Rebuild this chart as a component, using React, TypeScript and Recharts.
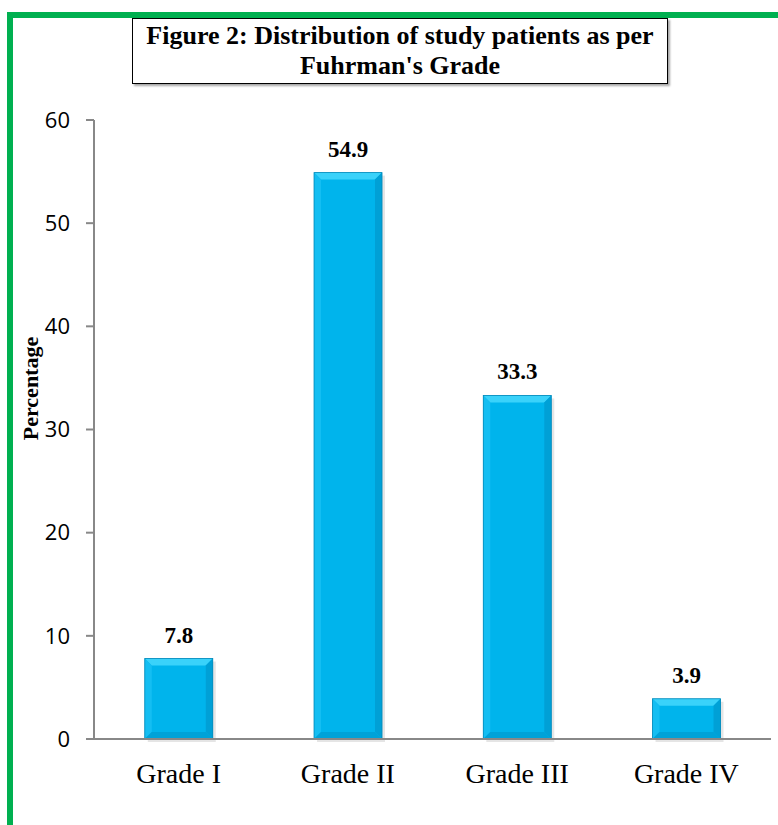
import React from "react";
import { BarChart, Bar, XAxis, YAxis, LabelList } from "recharts";

const grades = ["Grade I", "Grade II", "Grade III", "Grade IV"];
const percentages = [7.8, 54.9, 33.3, 3.9];
const yTicks = [0, 10, 20, 30, 40, 50, 60];

const data = grades.map((grade, i) => ({ grade, pct: percentages[i] }));

// bevelled bar, like the Excel "soft edge" style
function BevelBar(props: any) {
  const { x, y, width, height } = props;
  if (!height || height <= 0) return null;
  const b = Math.min(7, height / 3);
  const x2 = x + width;
  const y2 = y + height;
  return (
    <g>
      <rect x={x + 3} y={y + 3} width={width} height={height} fill="#000" opacity={0.1} />
      <rect x={x} y={y} width={width} height={height} fill="#00B4EC" />
      <polygon points={`${x},${y} ${x2},${y} ${x2 - b},${y + b} ${x + b},${y + b}`} fill="#3AD2FA" />
      <polygon points={`${x},${y} ${x + b},${y + b} ${x + b},${y2 - b} ${x},${y2}`} fill="#14BEF2" />
      <polygon points={`${x2},${y} ${x2},${y2} ${x2 - b},${y2 - b} ${x2 - b},${y + b}`} fill="#00A0D6" />
      <polygon points={`${x},${y2} ${x + b},${y2 - b} ${x2 - b},${y2 - b} ${x2},${y2}`} fill="#00A2D8" />
      <rect x={x} y={y} width={width} height={height} fill="none" stroke="#0088B8" strokeWidth={0.8} />
    </g>
  );
}

export default function App() {
  return (
    <div style={{ position: "absolute", left: 0, top: 0, width: 778, height: 825, background: "#fff", overflow: "hidden" }}>
      <div
        style={{
          position: "absolute",
          left: 7,
          top: 12,
          width: 800,
          height: 850,
          borderLeft: "6px solid #00B050",
          borderTop: "6px solid #00B050",
        }}
      />
      <div
        style={{
          position: "absolute",
          left: 132,
          top: 18,
          width: 536,
          height: 66,
          border: "1.5px solid #000",
          boxShadow: "2px 2px 2px rgba(0,0,0,0.35)",
          background: "#fff",
          fontFamily: "'Liberation Serif', serif",
          fontWeight: "bold",
          fontSize: 26,
          lineHeight: "30px",
          textAlign: "center",
          paddingTop: 2,
          boxSizing: "border-box",
          whiteSpace: "nowrap",
        }}
      >
        Figure 2: Distribution of study patients as per
        <br />
        Fuhrman's Grade
      </div>
      <BarChart
        width={778}
        height={825}
        data={data}
        margin={{ top: 120, right: 7, bottom: 0, left: 0 }}
        barCategoryGap="30%"
        style={{ position: "absolute", left: 0, top: 0 }}
      >
        <YAxis
          width={94}
          domain={[0, 60]}
          ticks={yTicks}
          interval={0}
          axisLine={{ stroke: "#888", strokeWidth: 2 }}
          tickLine={{ stroke: "#888", strokeWidth: 2 }}
          tickSize={8}
          tickMargin={16}
          tick={{ fill: "#000", fontSize: 22, fontFamily: "'Open Sans', sans-serif" }}
          label={{
            content: (p: any) => {
              const vb = p.viewBox;
              const cy = vb.y + vb.height / 2 - 41;
              return (
                <text
                  x={30}
                  y={cy}
                  transform={`rotate(-90, 30, ${cy})`}
                  textAnchor="middle"
                  dominantBaseline="central"
                  fontFamily="'Liberation Serif', serif"
                  fontWeight="bold"
                  fontSize={22}
                  fill="#000"
                >
                  Percentage
                </text>
              );
            },
          }}
        />
        <XAxis
          dataKey="grade"
          height={86}
          axisLine={{ stroke: "#888", strokeWidth: 2 }}
          tickLine={false}
          tickSize={6}
          tickMargin={18}
          tick={{ fill: "#000", fontSize: 28, fontFamily: "'Liberation Serif', serif" }}
        />
        <Bar dataKey="pct" shape={<BevelBar />} isAnimationActive={false}>
          <LabelList
            dataKey="pct"
            position="top"
            offset={16}
            style={{ fill: "#000", fontSize: 23, fontWeight: "bold", fontFamily: "'Liberation Serif', serif" }}
          />
        </Bar>
      </BarChart>
    </div>
  );
}
